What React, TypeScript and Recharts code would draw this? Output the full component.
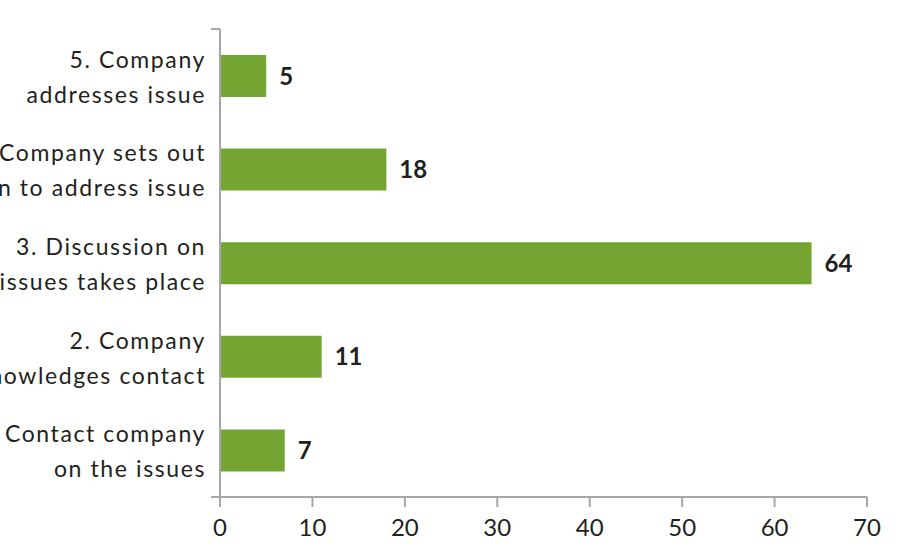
import React from "react";
import { BarChart, Bar, XAxis, YAxis, LabelList } from "recharts";

// top to bottom, as drawn
const stages = [
  "5. Company\naddresses issue",
  "4. Company sets out\nplan to address issue",
  "3. Discussion on\nissues takes place",
  "2. Company\nacknowledges contact",
  "1. Contact company\non the issues",
];
const counts = [5, 18, 64, 11, 7];
const xTicks = [0, 10, 20, 30, 40, 50, 60, 70];

const data = stages.map((s, i) => ({ stage: s, count: counts[i] }));

const W = 903;
const H = 555;
const TOP = 29;
const X_AXIS_H = 58;
const TEXT = "#231f20";
const AXIS = "#a5a7aa";
const GREEN = "#74a533";
const FONT = "Lato, sans-serif";

const band = (H - TOP - X_AXIS_H) / stages.length;

function StageTick(props: any) {
  const { x, y, payload, index } = props;
  const lines = String(payload.value).split("\n");
  const ax = x + 14;
  return (
    <g>
      <text
        x={x}
        y={y}
        textAnchor="end"
        fill={TEXT}
        fontFamily={FONT}
        fontSize={23}
        letterSpacing={1.6}
      >
        <tspan x={x} y={y - 8}>{lines[0]}</tspan>
        <tspan x={x} y={y + 27}>{lines[1]}</tspan>
      </text>
      {index === 0 && (
        <line x1={ax - 9} x2={ax} y1={y - band / 2} y2={y - band / 2} stroke={AXIS} strokeWidth={2} />
      )}
      {index === stages.length - 1 && (
        <line x1={ax - 9} x2={ax} y1={y + band / 2} y2={y + band / 2} stroke={AXIS} strokeWidth={2} />
      )}
    </g>
  );
}

export default function App() {
  return (
    <div style={{ position: "absolute", left: 0, top: 0, background: "#fff" }}>
      <BarChart
        width={W}
        height={H}
        data={data}
        layout="vertical"
        margin={{ top: TOP, right: 36, bottom: 0, left: 0 }}
      >
        <XAxis
          type="number"
          domain={[0, 70]}
          ticks={xTicks}
          interval={0}
          height={X_AXIS_H}
          tickSize={10}
          tickMargin={12}
          axisLine={{ stroke: AXIS, strokeWidth: 2 }}
          tickLine={{ stroke: AXIS, strokeWidth: 2 }}
          tick={{ fill: TEXT, fontSize: 24, fontFamily: FONT }}
        />
        <YAxis
          type="category"
          dataKey="stage"
          width={220}
          tickSize={0}
          tickMargin={14}
          tickLine={false}
          axisLine={{ stroke: AXIS, strokeWidth: 2 }}
          tick={<StageTick />}
          interval={0}
        />
        <Bar dataKey="count" fill={GREEN} barSize={42} isAnimationActive={false}>
          <LabelList
            dataKey="count"
            position="right"
            offset={13}
            fill={TEXT}
            fontFamily={FONT}
            fontSize={24}
            fontWeight="bold"
          />
        </Bar>
      </BarChart>
    </div>
  );
}
